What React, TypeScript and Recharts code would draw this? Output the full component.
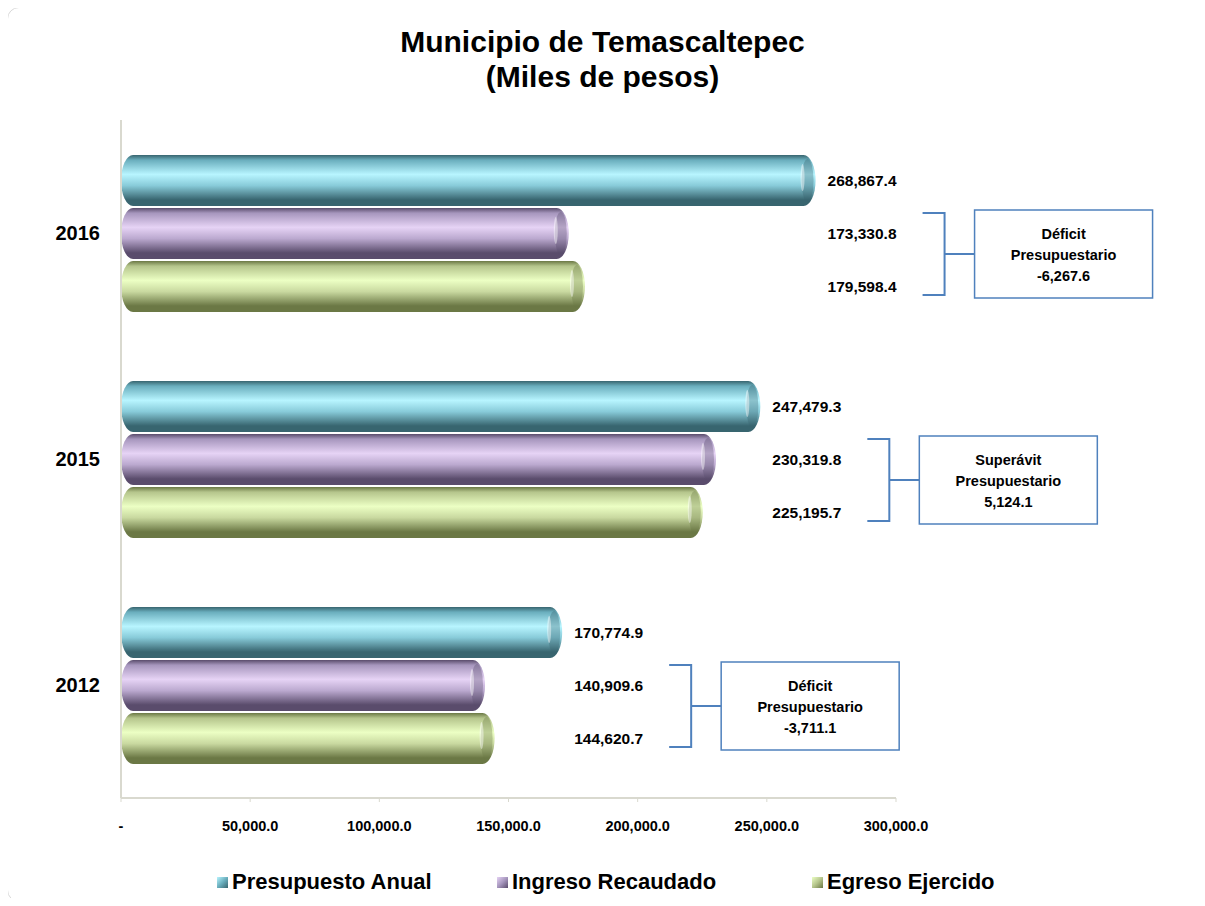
import { BarChart, Bar, XAxis, YAxis } from "recharts";

const categories = ["2016", "2015", "2012"];
const presupuesto = [268867.4, 247479.3, 170774.9];
const ingreso = [173330.8, 230319.8, 140909.6];
const egreso = [179598.4, 225195.7, 144620.7];
const xTicks = [0, 50000, 100000, 150000, 200000, 250000, 300000];
const seriesNames = ["Presupuesto Anual", "Ingreso Recaudado", "Egreso Ejercido"];
const seriesKeys = ["presupuesto", "ingreso", "egreso"];

const data = categories.map((year, i) => ({
  year,
  presupuesto: presupuesto[i],
  ingreso: ingreso[i],
  egreso: egreso[i],
}));

const palettes = [
  { top: "#6aaebd", light: "#b8f5ff", mid: "#88cbd9", bottom: "#38656f" },
  { top: "#a696bd", light: "#e6d3f5", mid: "#bba9cf", bottom: "#5a4c6c" },
  { top: "#b5c58c", light: "#ecffc4", mid: "#c9d9a0", bottom: "#6b7845" },
];

const FONT = '"Liberation Sans", Arial, sans-serif';
const BLUE = "#4f81bd";

const fmt = (v: number) =>
  v.toLocaleString("en-US", { minimumFractionDigits: 1, maximumFractionDigits: 1 });

const tickFmt = (v: number) => (v === 0 ? "-" : fmt(v));

function Stops({ s }: { s: number }) {
  const p = palettes[s];
  return (
    <>
      <stop offset="0%" stopColor={p.bottom} />
      <stop offset="10%" stopColor={p.top} />
      <stop offset="38%" stopColor={p.light} />
      <stop offset="60%" stopColor={p.mid} />
      <stop offset="88%" stopColor={p.bottom} />
      <stop offset="100%" stopColor={p.bottom} />
    </>
  );
}

const makeShape = (s: number) => (props: any) => {
  const { x, y, width, height, index, payload } = props;
  if (!payload || !width) return <g />;
  const id = `cyl-${s}-${index}`;
  const value = payload[seriesKeys[s]];
  const k = width / value;
  const groupMax = Math.max(payload.presupuesto, payload.ingreso, payload.egreso);
  const anchor = x + groupMax * k + 12;
  const cy = y + height / 2;
  const p = palettes[s];

  let note = null;
  if (s === 1) {
    const diff = payload.ingreso - payload.egreso;
    const bx = anchor + 95;
    const vx = bx + 22;
    const mid = y + height - 5;
    const boxX = vx + 30;
    const lines = [diff < 0 ? "Déficit" : "Superávit", "Presupuestario", fmt(diff)];
    note = (
      <g>
        <path
          d={`M${bx},${mid - 41} H${vx} V${mid + 41} H${bx} M${vx},${mid} H${boxX}`}
          fill="none"
          stroke={BLUE}
          strokeWidth={2}
        />
        <rect x={boxX} y={mid - 44} width={178} height={88} fill="#fff" stroke={BLUE} strokeWidth={1.5} />
        {lines.map((t, i) => (
          <text
            key={i}
            x={boxX + 89}
            y={mid - 20 + i * 21}
            textAnchor="middle"
            dominantBaseline="central"
            fontFamily={FONT}
            fontWeight="bold"
            fontSize={14.5}
            fill="#000"
          >
            {t}
          </text>
        ))}
      </g>
    );
  }

  return (
    <g>
      <defs>
        <linearGradient id={id} x1="0" y1="0" x2="0" y2="1">
          <Stops s={s} />
        </linearGradient>
      </defs>
      <rect x={x} y={y} width={width} height={height} rx={12} ry={height / 2} fill={`url(#${id})`} />
      <ellipse
        cx={x + width - 8}
        cy={cy}
        rx={6}
        ry={height / 2 - 4}
        fill={p.bottom}
        opacity={0.35}
      />
      <ellipse
        cx={x + width - 13}
        cy={cy - 3}
        rx={2}
        ry={height / 2 - 12}
        fill="#fff"
        opacity={0.45}
      />
      <text
        x={anchor}
        y={cy}
        dominantBaseline="central"
        fontFamily={FONT}
        fontWeight="bold"
        fontSize={15.5}
        fill="#000"
      >
        {fmt(value)}
      </text>
      {note}
    </g>
  );
};

const legendLeft = [209, 489, 804];

export default function App() {
  return (
    <div style={{ position: "relative", width: 1197, height: 890, fontFamily: FONT }}>
      <div
        style={{
          position: "absolute",
          left: -1,
          top: -1,
          width: 1210,
          height: 893,
          border: "1px solid #d8d8d8",
          borderRadius: 12,
        }}
      />
      <div
        style={{
          position: "absolute",
          left: 0,
          top: 16,
          width: 1189,
          textAlign: "center",
          fontSize: 30,
          lineHeight: "35px",
          fontWeight: "bold",
          color: "#000",
        }}
      >
        Municipio de Temascaltepec
        <br />
        (Miles de pesos)
      </div>
      <div style={{ position: "absolute", left: 0, top: 0 }}>
        <BarChart
          width={1190}
          height={890}
          data={data}
          layout="vertical"
          margin={{ top: 112, right: 302, bottom: 66, left: 0 }}
          barSize={51}
          barGap={2}
        >
          <XAxis
            type="number"
            domain={[0, 300000]}
            ticks={xTicks}
            tickFormatter={tickFmt}
            height={34}
            axisLine={{ stroke: "#d9d9cf", strokeWidth: 2 }}
            tickLine={{ stroke: "#d9d9cf" }}
            tickSize={4}
            tickMargin={19}
            tick={{ fontFamily: FONT, fontSize: 14.5, fontWeight: "bold", fill: "#000" }}
          />
          <YAxis
            type="category"
            dataKey="year"
            width={113}
            tickSize={0}
            tickMargin={21}
            tickLine={false}
            axisLine={{ stroke: "#d9d9cf", strokeWidth: 2 }}
            tick={{ fontFamily: FONT, fontSize: 20, fontWeight: "bold", fill: "#000" }}
          />
          {seriesKeys.map((k, s) => (
            <Bar
              key={k}
              dataKey={k}
              name={seriesNames[s]}
              fill={palettes[s].mid}
              shape={makeShape(s)}
              isAnimationActive={false}
            />
          ))}
        </BarChart>
      </div>
      {seriesNames.map((n, s) => (
        <div
          key={n}
          style={{
            position: "absolute",
            left: legendLeft[s],
            top: 862,
            display: "flex",
            alignItems: "center",
            fontSize: 22,
            lineHeight: "24px",
            fontWeight: "bold",
            color: "#000",
            whiteSpace: "nowrap",
          }}
        >
          <span
            style={{
              display: "inline-block",
              width: 11,
              height: 11,
              marginRight: 4,
              background: `linear-gradient(135deg, ${palettes[s].light}, ${palettes[s].top} 50%, ${palettes[s].bottom})`,
            }}
          />
          {n}
        </div>
      ))}
    </div>
  );
}
